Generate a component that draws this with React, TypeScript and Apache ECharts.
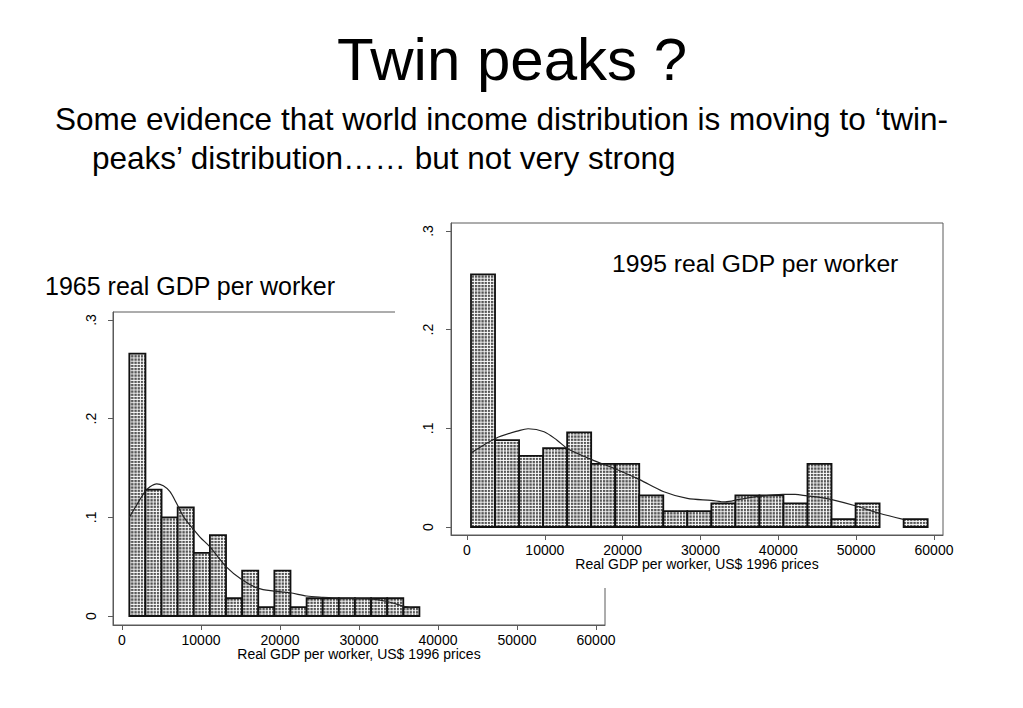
import React, { useEffect, useRef } from "react";
import * as echarts from "echarts";

// ---------- data ----------
const xTicks = [0, 10000, 20000, 30000, 40000, 50000, 60000];
const yTicks = [0, 0.1, 0.2, 0.3];
const yTickLabels = ["0", ".1", ".2", ".3"];

// 1965 histogram: bin edges and fractions
const edges1965 = [928, 2968, 5008, 7048, 9088, 11128, 13168, 15208, 17248, 19288, 21328, 23368, 25408, 27448, 29488, 31528, 33568, 35608, 37648];
const frac1965 = [0.266, 0.128, 0.1, 0.11, 0.064, 0.082, 0.018, 0.046, 0.009, 0.046, 0.009, 0.018, 0.018, 0.018, 0.018, 0.018, 0.018, 0.009];
const kde1965 = [
  [928, 0.1], [1857, 0.1125], [2911, 0.126], [3544, 0.131], [4388, 0.134], [5232, 0.132],
  [6076, 0.126], [6920, 0.114], [7764, 0.101], [8608, 0.092], [9873, 0.08], [11139, 0.07],
  [13165, 0.05], [15150, 0.037], [17257, 0.028], [19240, 0.0253], [21265, 0.0236], [23376, 0.0203],
  [25480, 0.019], [27600, 0.018], [29500, 0.0177], [31800, 0.0172], [33700, 0.0145], [35600, 0.01], [36800, 0.008],
];

// 1995 histogram
const edges1995 = [514, 3602, 6690, 9778, 12866, 15954, 19042, 22130, 25218, 28306, 31394, 34482, 37570, 40658, 43746, 46834, 49922, 53010, 56098, 59186];
const frac1995 = [0.256, 0.088, 0.072, 0.08, 0.096, 0.064, 0.064, 0.032, 0.016, 0.016, 0.024, 0.032, 0.032, 0.024, 0.064, 0.008, 0.024, 0, 0.008];
const kde1995 = [
  [514, 0.075], [3730, 0.09], [6800, 0.098], [7850, 0.0996], [9900, 0.0966], [11570, 0.088],
  [13000, 0.079], [16100, 0.068], [18400, 0.061], [22170, 0.048], [25200, 0.036], [28300, 0.029],
  [31370, 0.027], [33170, 0.0255], [35000, 0.028], [37530, 0.031], [40590, 0.033], [42160, 0.033],
  [43690, 0.0315], [45355, 0.03], [46740, 0.028], [50000, 0.0213], [52980, 0.0139], [56060, 0.0078],
];

const FONT = "'Liberation Sans', Arial, Helvetica, sans-serif";
const xName = "Real GDP per worker, US$ 1996 prices";

function makePattern(): any {
  const c = document.createElement("canvas");
  c.width = 32;
  c.height = 32;
  const ctx = c.getContext("2d")!;
  ctx.fillStyle = "#ffffff";
  ctx.fillRect(0, 0, 32, 32);
  ctx.fillStyle = "#555555";
  ctx.fillRect(0, 0, 23, 23);
  return { image: c, repeat: "repeat", scaleX: 0.1, scaleY: 0.1 };
}

function histData(edges: number[], frac: number[]) {
  const out: number[][] = [];
  for (let i = 0; i < frac.length; i++) {
    if (frac[i] > 0) out.push([edges[i], edges[i + 1], frac[i]]);
  }
  return out;
}

function panel(
  pattern: any,
  grid: any,
  xRange: [number, number],
  yRange: [number, number],
  edges: number[],
  frac: number[],
  kde: number[][],
  yMargin: number
) {
  const axisColor = "#5a5a5a";
  return {
    grid: [{ ...grid, show: true, borderColor: axisColor, borderWidth: 1, backgroundColor: "transparent" }],
    xAxis: [
      {
        type: "value",
        min: xRange[0],
        max: xRange[1],
        position: "bottom",
        axisLine: { show: true, onZero: false, lineStyle: { color: axisColor, width: 1 } },
        axisTick: { show: true, customValues: xTicks, length: 5, lineStyle: { color: axisColor } },
        axisLabel: {
          customValues: xTicks,
          formatter: (v: number) => String(v),
          color: "#000",
          fontSize: 14,
          lineHeight: 12,
          fontFamily: FONT,
          margin: 9,
        },
        splitLine: { show: false },
        name: xName,
        nameLocation: "middle",
        nameGap: 23,
        nameMoveOverlap: false,
        nameTextStyle: { color: "#000", fontSize: 14, lineHeight: 12, fontFamily: FONT },
      },
    ],
    yAxis: [
      {
        type: "value",
        min: yRange[0],
        max: yRange[1],
        axisLine: { show: true, onZero: false, lineStyle: { color: axisColor, width: 1 } },
        axisTick: { show: true, customValues: yTicks, length: 5, lineStyle: { color: axisColor } },
        axisLabel: {
          customValues: yTicks,
          formatter: (v: number) => {
            const i = yTicks.findIndex((t) => Math.abs(t - v) < 1e-9);
            return i >= 0 ? yTickLabels[i] : "";
          },
          rotate: 90,
          color: "#000",
          fontSize: 14,
          fontFamily: FONT,
          margin: yMargin,
        },
        splitLine: { show: false },
      },
    ],
    series: [
      {
        type: "custom",
        data: histData(edges, frac),
        renderItem: (params: any, api: any) => {
          const p0 = api.coord([api.value(0), api.value(2)]);
          const p1 = api.coord([api.value(1), 0]);
          return {
            type: "rect",
            shape: { x: p0[0], y: p0[1], width: p1[0] - p0[0], height: p1[1] - p0[1] },
            style: { fill: pattern, stroke: "#111", lineWidth: 1.8 },
          };
        },
        silent: true,
      },
      {
        type: "line",
        data: kde,
        smooth: 0.3,
        symbol: "none",
        lineStyle: { color: "#222", width: 1.2 },
        silent: true,
        z: 3,
      },
    ],
  };
}

export default function App() {
  const ref1 = useRef<HTMLDivElement>(null);
  const ref2 = useRef<HTMLDivElement>(null);

  useEffect(() => {
    const pattern = makePattern();
    const c1 = echarts.init(ref1.current!, undefined, { renderer: "svg" });
    const c2 = echarts.init(ref2.current!, undefined, { renderer: "svg" });

    const p1 = panel(
      pattern,
      { left: 113, top: 312, width: 492, height: 313 },
      [-1139, 61139],
      [-0.0091, 0.3081],
      edges1965,
      frac1965,
      kde1965,
      15
    );
    c1.setOption({
      animation: false,
      backgroundColor: "#ffffff",
      ...p1,
      graphic: [
        {
          type: "text",
          x: 512,
          y: 59,
          style: { text: "Twin peaks ?", font: `60px ${FONT}`, fill: "#000", align: "center", verticalAlign: "middle", textAlign: "center", textVerticalAlign: "middle" },
        },
        {
          type: "text",
          x: 55,
          y: 119,
          style: { text: "Some evidence that world income distribution is moving to \u2018twin-", font: `31.5px ${FONT}`, fill: "#000", align: "left", verticalAlign: "middle", textAlign: "left", textVerticalAlign: "middle" },
        },
        {
          type: "text",
          x: 92,
          y: 158,
          style: { text: "peaks\u2019 distribution\u2026\u2026 but not very strong", font: `31.5px ${FONT}`, fill: "#000", align: "left", verticalAlign: "middle", textAlign: "left", textVerticalAlign: "middle" },
        },
        {
          type: "text",
          x: 45,
          y: 286,
          style: { text: "1965 real GDP per worker", font: `25px ${FONT}`, fill: "#000", align: "left", verticalAlign: "middle", textAlign: "left", textVerticalAlign: "middle" },
        },
      ],
    });

    const p2 = panel(
      pattern,
      { left: 56, top: 18, width: 492, height: 312 },
      [-2056, 61156],
      [-0.0081, 0.3081],
      edges1995,
      frac1995,
      kde1995,
      16
    );
    c2.setOption({
      animation: false,
      backgroundColor: "#ffffff",
      ...p2,
      graphic: [
        {
          type: "text",
          x: 217,
          y: 58,
          style: { text: "1995 real GDP per worker", font: `24.7px ${FONT}`, fill: "#000", align: "left", verticalAlign: "middle", textAlign: "left", textVerticalAlign: "middle" },
        },
      ],
    });

    return () => {
      c1.dispose();
      c2.dispose();
    };
  }, []);

  return (
    <div style={{ position: "fixed", left: 0, top: 0, width: 1023, height: 708, background: "#fff" }}>
      <div ref={ref1} style={{ position: "absolute", left: 0, top: 0, width: 1023, height: 708 }} />
      <div ref={ref2} style={{ position: "absolute", left: 395, top: 205, width: 628, height: 383, background: "#fff" }} />
    </div>
  );
}
